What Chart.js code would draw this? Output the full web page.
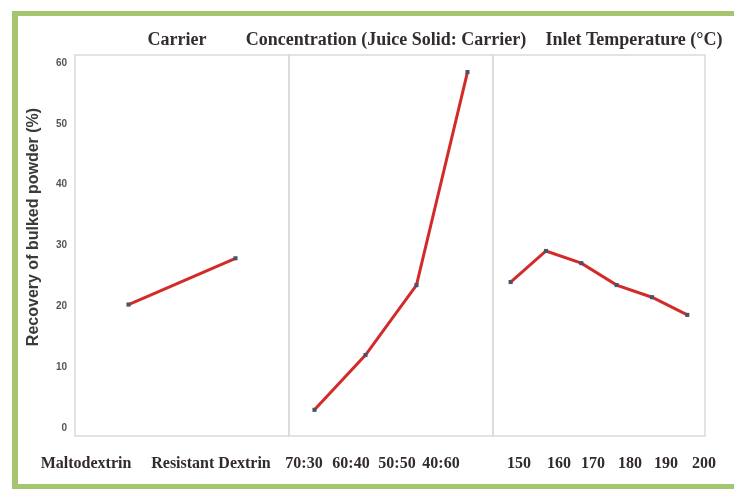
<!DOCTYPE html>
<html>
<head>
<meta charset="utf-8">
<script src="https://cdn.jsdelivr.net/npm/chart.js@4/dist/chart.umd.min.js"></script>
<style>
  html, body { margin: 0; padding: 0; background: #ffffff; }
  #wrap { width: 734px; height: 489px; position: relative; }
</style>
</head>
<body>
<div id="wrap"><canvas id="c" width="734" height="489"></canvas></div>
<script>
// Recovery of bulked powder (%) for each process factor
const carrierLabels = ['Maltodextrin', 'Resistant Dextrin'];
const carrierRecovery = [20.3, 27.9];

const ratioLabels = ['70:30', '60:40', '50:50', '40:60'];
const ratioRecovery = [3.0, 12.0, 23.5, 58.5];

const tempLabels = ['150', '160', '170', '180', '190', '200'];
const tempRecovery = [24.0, 29.1, 27.1, 23.5, 21.5, 18.6];

const yTicks = [0, 10, 20, 30, 40, 50, 60];

const panelTitles = ['Carrier', 'Concentration (Juice Solid: Carrier)', 'Inlet Temperature (°C)'];
const yTitle = 'Recovery of bulked powder (%)';

// ---- layout ----
const panelWeights = [214, 204, 212];          // relative panel widths
const titleShift = [-5, -5, 35];               // horizontal nudge of each panel heading
const textRowWidth = 630;                      // units of the caption row axis
const textRowSlots = [11, 136, 229, 276, 322, 366, 444, 484, 518, 555, 591, 629];
const textRowLabels = [...carrierLabels, ...ratioLabels, ...tempLabels];

const serif = "'Liberation Serif', 'Times New Roman', serif";
const sans = "'Liberation Sans', Arial, sans-serif";

const lineStyle = {
  borderColor: '#d32a2a',
  borderWidth: 3,
  pointStyle: 'rect',
  pointRadius: 2.9,
  pointBackgroundColor: '#4a5368',
  pointBorderColor: '#4a5368',
  pointBorderWidth: 0,
  tension: 0,
  fill: false
};

function panelAxis(labels, weight) {
  return {
    type: 'category',
    labels: labels,
    position: 'bottom',
    stack: 'panels',
    stackWeight: weight,
    offset: true,
    display: false
  };
}

// Panel frames, headings, vertical axis title and the green outline
const decor = {
  id: 'decor',
  beforeDraw(chart) {
    const { ctx, width, height } = chart;
    ctx.save();
    ctx.fillStyle = '#ffffff';
    ctx.fillRect(0, 0, width, height);
    ctx.restore();
  },
  beforeDatasetsDraw(chart) {
    const { ctx, chartArea: a } = chart;
    const panels = ['xCarrier', 'xRatio', 'xTemp'].map(id => chart.scales[id]);
    ctx.save();
    ctx.strokeStyle = '#dadada';
    ctx.lineWidth = 1.5;
    panels.forEach(s => ctx.strokeRect(s.left, a.top, s.right - s.left, a.bottom - a.top));
    ctx.restore();
  },
  afterDraw(chart) {
    const { ctx, width, height } = chart;
    const panels = ['xCarrier', 'xRatio', 'xTemp'].map(id => chart.scales[id]);
    ctx.save();
    ctx.fillStyle = '#332d2d';
    ctx.font = `bold 18px ${serif}`;
    ctx.textAlign = 'center';
    ctx.textBaseline = 'middle';
    panels.forEach((s, i) => ctx.fillText(panelTitles[i], (s.left + s.right) / 2 + titleShift[i], 40));

    ctx.translate(34, 227);
    ctx.rotate(-Math.PI / 2);
    ctx.fillStyle = '#3a3a3a';
    ctx.font = `bold 16px ${sans}`;
    ctx.fillText(yTitle, 0, 0);
    ctx.restore();

    ctx.save();
    ctx.fillStyle = '#a5c56e';
    ctx.fillRect(12, 11, 6, height - 11);
    ctx.fillRect(12, 11, width - 12, 5);
    ctx.fillRect(12, height - 5, width - 12, 5);
    ctx.restore();
  }
};

new Chart(document.getElementById('c'), {
  type: 'line',
  data: {
    datasets: [
      { label: 'Carrier', data: carrierRecovery, xAxisID: 'xCarrier', ...lineStyle },
      { label: 'Concentration', data: ratioRecovery, xAxisID: 'xRatio', ...lineStyle },
      { label: 'Inlet Temperature', data: tempRecovery, xAxisID: 'xTemp', ...lineStyle }
    ]
  },
  options: {
    responsive: false,
    animation: false,
    layout: { padding: { left: 0, right: 29, top: 55, bottom: 0 } },
    plugins: { legend: { display: false }, tooltip: { enabled: false } },
    scales: {
      xCarrier: panelAxis(carrierLabels, panelWeights[0]),
      xRatio: panelAxis(ratioLabels, panelWeights[1]),
      xTemp: panelAxis(tempLabels, panelWeights[2]),
      xText: {
        type: 'linear',
        position: 'bottom',
        min: 0,
        max: textRowWidth,
        afterBuildTicks: s => { s.ticks = textRowSlots.map(v => ({ value: v })); },
        afterFit: s => { s.height = 53; },
        ticks: {
          autoSkip: false,
          maxRotation: 0,
          minRotation: 0,
          padding: 18,
          color: '#332b2b',
          font: { family: serif, weight: 'bold', size: 16 },
          callback: (v, i) => textRowLabels[i]
        },
        grid: { display: false, drawTicks: false },
        border: { display: false }
      },
      y: {
        type: 'linear',
        position: 'left',
        min: -1.3,
        max: 61.3,
        afterBuildTicks: s => { s.ticks = yTicks.map(v => ({ value: v })); },
        afterFit: s => { s.width = 75; },
        ticks: {
          padding: 8,
          color: '#555555',
          font: { family: sans, size: 10, weight: 'bold' }
        },
        grid: { display: false, drawTicks: false },
        border: { display: false }
      }
    }
  },
  plugins: [decor]
});
</script>
</body>
</html>
